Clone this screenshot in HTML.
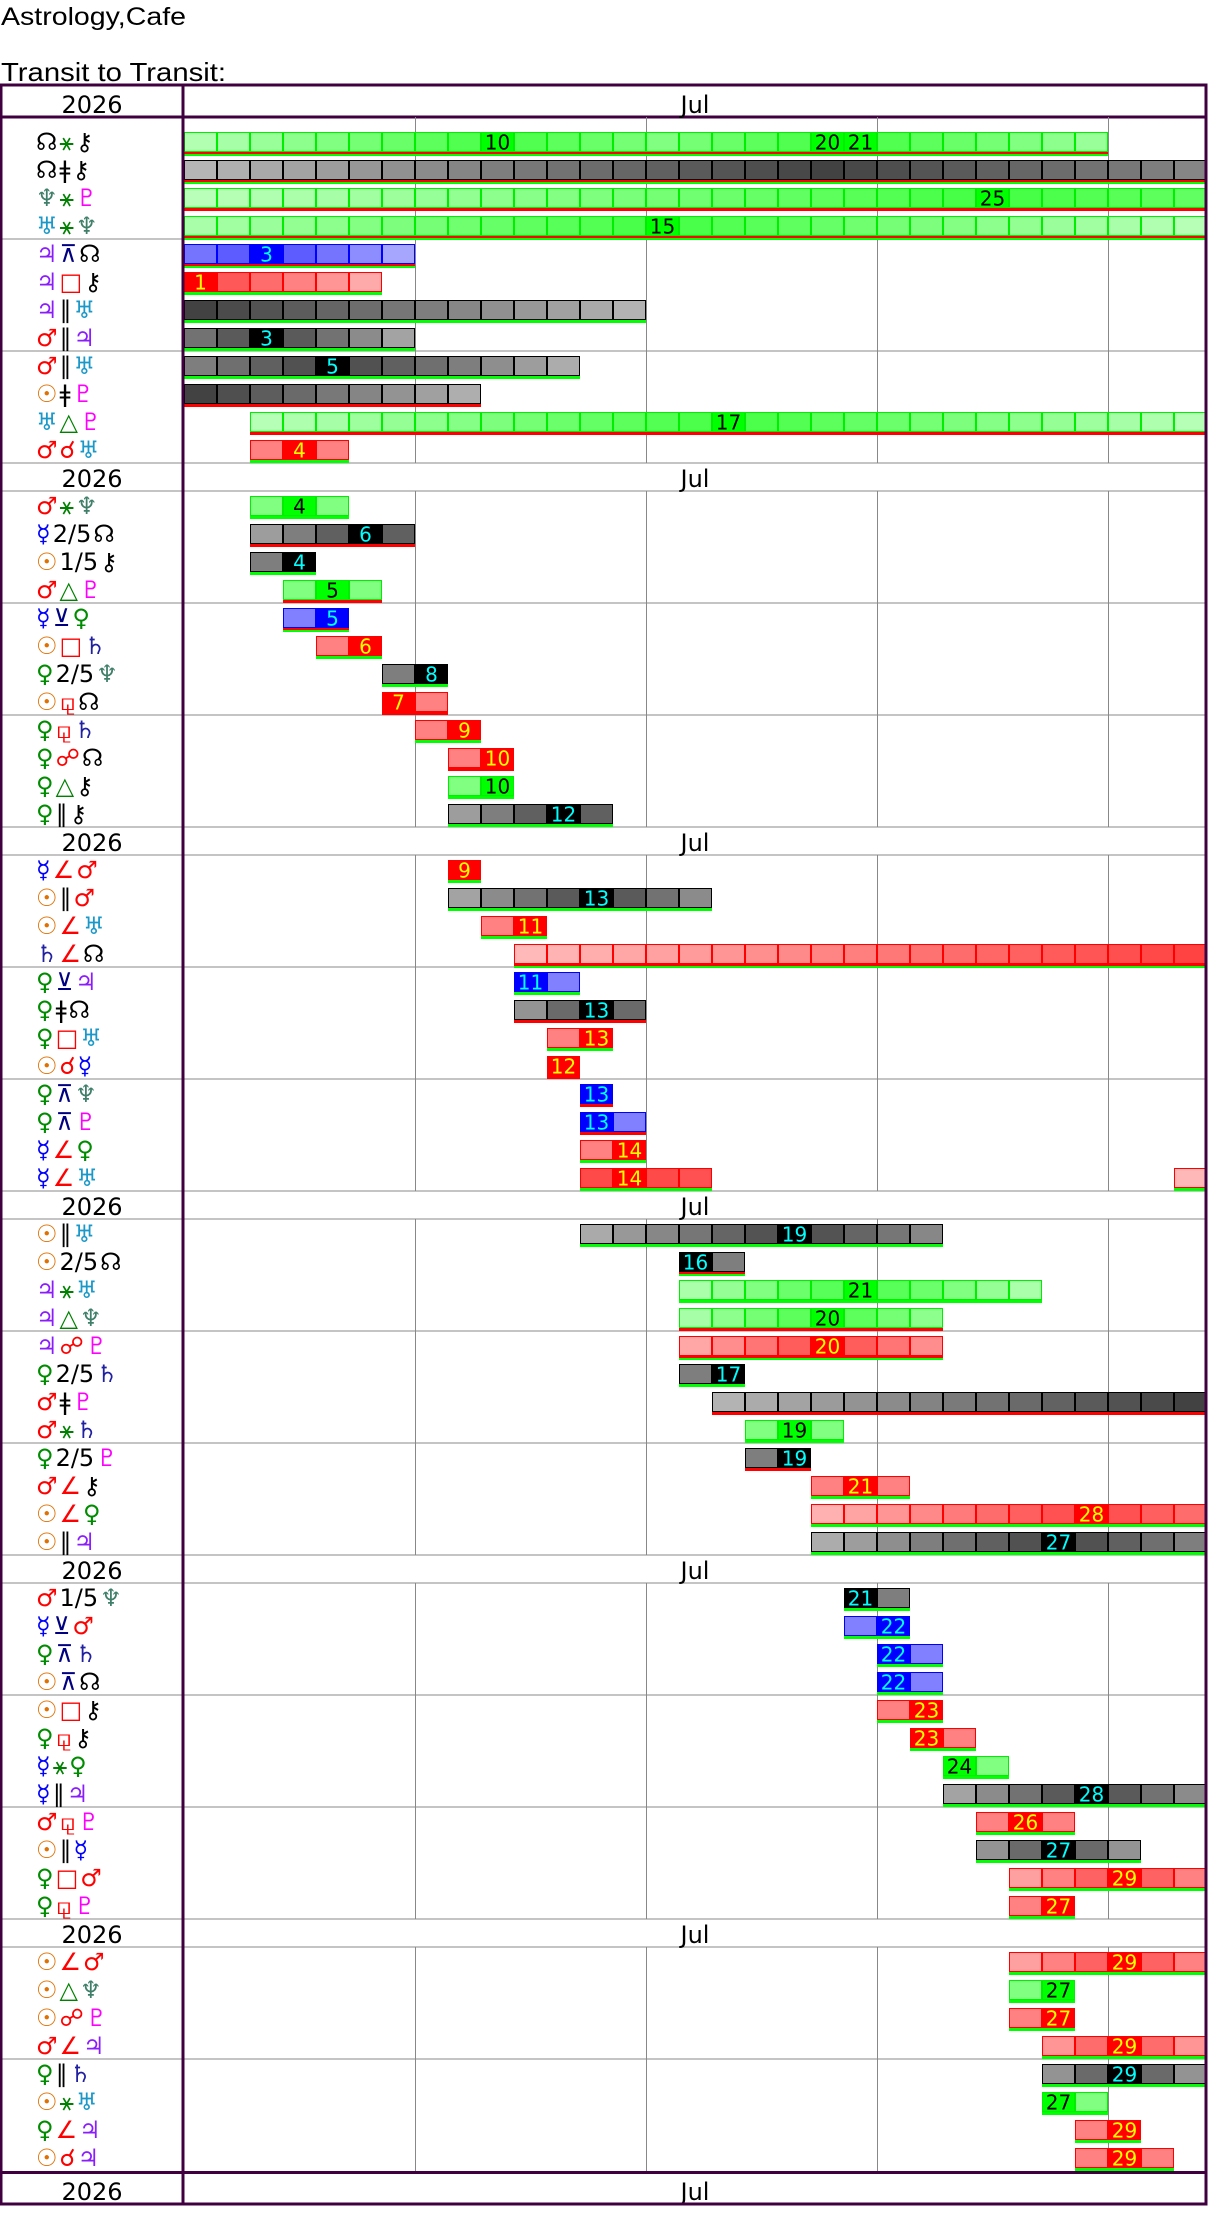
<!DOCTYPE html>
<html><head><meta charset="utf-8">
<style>
html,body{margin:0;padding:0;background:#fff;}
svg{display:block;font-family:"DejaVu Sans","Liberation Sans",sans-serif;}
</style></head>
<body>
<svg id="chart" width="1222" height="2236" viewBox="0 0 1222 2236" xmlns="http://www.w3.org/2000/svg">
<text x="1" y="25" font-size="25" fill="#000" font-family="Liberation Sans, DejaVu Sans, sans-serif" textLength="185" lengthAdjust="spacingAndGlyphs">Astrology,Cafe</text>
<text x="1" y="81" font-size="26" fill="#000" font-family="Liberation Sans, DejaVu Sans, sans-serif" textLength="225" lengthAdjust="spacingAndGlyphs">Transit to Transit:</text>
</svg>
<script>
// ---- data ----
const rowP1 = ["☊","☊","♆","♅","♃","♃","♃","♂","♂","☉","♅","♂",
"♂","☿","☉","♂","☿","☉","♀","☉","♀","♀","♀","♀",
"☿","☉","☉","♄","♀","♀","♀","☉","♀","♀","☿","☿",
"☉","☉","♃","♃","♃","♀","♂","♂","♀","♂","☉","☉",
"♂","☿","♀","☉","☉","♀","☿","☿","♂","☉","♀","♀",
"☉","☉","☉","♂","♀","☉","♀","☉"];
const rowAsp = ["⚹","ǂ","⚹","⚹","⊼","□","∥","∥","∥","ǂ","△","☌",
"⚹","2/5","1/5","△","⊻","□","2/5","⚼","⚼","☍","△","∥",
"∠","∥","∠","∠","⊻","ǂ","□","☌","⊼","⊼","∠","∠",
"∥","2/5","⚹","△","☍","2/5","ǂ","⚹","2/5","∠","∠","∥",
"1/5","⊻","⊼","⊼","□","⚼","⚹","∥","⚼","∥","□","⚼",
"∠","△","☍","∠","∥","⚹","∠","☌"];
const rowP2 = ["⚷","⚷","♇","♆","☊","⚷","♅","♃","♅","♇","♇","♅",
"♆","☊","⚷","♇","♀","♄","♆","☊","♄","☊","⚷","⚷",
"♂","♂","♅","☊","♃","☊","♅","☿","♆","♇","♀","♅",
"♅","☊","♅","♆","♇","♄","♇","♄","♇","⚷","♀","♃",
"♆","♂","♄","☊","⚷","⚷","♀","♃","♇","☿","♂","♇",
"♂","♆","♇","♃","♄","♅","♃","♃"];
const rowType = ["g","k","g","g","b","r","k","k","k","k","g","r",
"g","k","k","g","b","r","k","r","r","r","g","k",
"r","k","r","r","b","k","r","r","b","b","r","r",
"k","k","g","g","r","k","k","g","k","r","r","k",
"k","b","b","b","r","r","g","k","r","k","r","r",
"r","g","r","r","k","g","r","r"];
const rowStart = [1,1,1,1,1,1,1,1,1,1,3,3,
3,3,3,4,4,5,7,7,8,9,9,9,
9,9,10,11,11,11,12,12,13,13,13,13,
13,16,16,16,16,16,17,18,18,20,20,20,
21,21,22,22,22,23,24,24,25,25,26,26,
26,26,26,27,27,27,28,28];
const rowEnd = [28,31,31,31,7,6,14,7,12,9,31,5,
5,7,4,6,5,6,8,8,9,10,10,13,
9,16,11,31,12,14,13,12,13,14,14,16,
23,17,26,23,23,17,31,20,19,22,31,31,
22,22,23,23,23,24,25,31,27,29,31,27,
31,27,27,31,31,28,29,30];
// peak days carrying a printed label
const rowLabels = [[10,20,21],[],[25],[15],[3],[1],[],[3],[5],[],[17],[4],
[4],[6],[4],[5],[5],[6],[8],[7],[9],[10],[10],[12],
[9],[13],[11],[],[11],[13],[13],[12],[13],[13],[14],[14],
[19],[16],[21],[20],[20],[17],[],[19],[19],[21],[28],[27],
[21],[22],[22],[22],[23],[23],[24],[28],[26],[27],[29],[27],
[29],[27],[27],[29],[29],[27],[29],[29]];
// darkest day when there is no label
const rowDark = [0,20,0,0,0,0,1,0,0,1,0,0,
0,0,0,0,0,0,0,0,0,0,0,0,
0,0,0,31,0,0,0,0,0,0,0,0,
0,0,0,0,0,0,31,0,0,0,0,0,
0,0,0,0,0,0,0,0,0,0,0,0,
0,0,0,0,0,0,0,0];
const rowUnder = ["rg","rg","r","rg","rg","g","g","g","g","r","r","g",
"g","r","g","r","rg","g","g","r","g","r","g","g",
"g","g","g","rg","g","r","g","r","r","r","g","g",
"g","rg","g","r","rg","g","r","g","r","g","g","g",
"g","g","g","g","g","g","g","g","g","g","g","g",
"g","g","g","g","g","g","g","g"];
const extraCells = [[35,31]];
const blockSizes = [12,12,12,12,12,8];
const yearLabel = "2026";
const monthLabel = "Jul";
const daysInMonth = 31;

const pColor = {"☊":"#000","⚷":"#000","♆":"#3f7f6a","♇":"#ff00ff","♅":"#1a98c8","♃":"#8a1cff","♂":"#ff0000","☉":"#e07000","☿":"#0000ff","♀":"#008c00","♄":"#2020a0"};
const aColor = {"⚹":"#008000","ǂ":"#000","⊼":"#000080","⊻":"#000080","□":"#ff0000","∥":"#000","☌":"#ff0000","△":"#008000","∠":"#ff0000","☍":"#ff0000","⚼":"#ff0000","2/5":"#000","1/5":"#000"};

// ---- layout ----
const NS = "http://www.w3.org/2000/svg";
const svg = document.getElementById('chart');
const X0 = 184, CW = 33, XR = 1206;
const ROWH = 28;
function xDay(d){ return X0 + (d-1)*CW; }
function mk(tag, attrs, parent){
  const e = document.createElementNS(NS, tag);
  for (const k in attrs) e.setAttribute(k, attrs[k]);
  (parent||svg).appendChild(e); return e;
}
function lerp(a,b,t){ return Math.round(a+(b-a)*t); }
function shade(type, t){
  let c0, c1;
  if (type==="g"){ c0=[224,255,224]; c1=[0,255,0]; }
  else if (type==="r"){ c0=[255,224,224]; c1=[255,0,0]; }
  else if (type==="b"){ c0=[224,224,255]; c1=[0,0,255]; }
  else { c0=[220,220,220]; c1=[0,0,0]; }
  return "rgb("+lerp(c0[0],c1[0],t)+","+lerp(c0[1],c1[1],t)+","+lerp(c0[2],c1[2],t)+")";
}
const border = {g:"#00ee00", r:"#ff0000", b:"#0000ff", k:"#000"};
const labelCol = {g:"#000", r:"#ffff00", b:"#00ffff", k:"#00ffff"};

function header(y, h){
  const g = mk('g', {});
  
  
  const t = mk('text', {x:92, y:y+h-4, 'font-size':24, 'text-anchor':'middle', fill:'#000'}, g);
  t.textContent = yearLabel;
  
  
  const m = mk('text', {x:(X0+XR)/2, y:y+h-4, 'font-size':24, 'text-anchor':'middle', fill:'#000'}, g);
  m.textContent = monthLabel;
  
  
}

function drawRow(i, top){
  const g = mk('g', {});
  
  
  const tx = mk('text', {x:36, y:top+23, 'font-size':24}, g);
  
  
  const s1 = mk('tspan', {fill:pColor[rowP1[i]]}, tx); s1.textContent = rowP1[i];
  const s2 = mk('tspan', {fill:aColor[rowAsp[i]]||"#000", dx:2}, tx); s2.textContent = rowAsp[i];
  const s3 = mk('tspan', {fill:pColor[rowP2[i]], dx:2}, tx); s3.textContent = rowP2[i];
  const type = rowType[i];
  const peaks = rowLabels[i].length ? rowLabels[i] : [rowDark[i]];
  const days = [];
  for (let d=rowStart[i]; d<=rowEnd[i]; d++) days.push(d);
  extraCells.forEach(e=>{ if(e[0]===i) days.push(e[1]); });
  let maxDist = 1;
  days.forEach(d=>{ const dd=Math.min(...peaks.map(p=>Math.abs(d-p))); if(dd>maxDist) maxDist=dd; });
  const by = top+5.5, bh = 19;
  days.forEach(d=>{
    const dd = Math.min(...peaks.map(p=>Math.abs(d-p)));
    const isLab = rowLabels[i].indexOf(d) >= 0;
    const t = isLab ? 1 : 0.15 + 0.55*(1 - dd/(maxDist+1));
    const r = mk('rect', {x:xDay(d)+0.5, y:by, width:CW-1, height:bh, fill:shade(type,t), stroke:border[type], 'stroke-width':1}, g);
    
    
    if (isLab){
      const lt = mk('text', {x:xDay(d)+CW/2, y:by+bh-2, 'font-size':20, 'text-anchor':'middle', fill:labelCol[type]}, g);
      lt.textContent = String(d);
      
      
    }
  });
  const u = rowUnder[i];
  const segs = [[rowStart[i], rowEnd[i]]];
  extraCells.forEach(e=>{ if(e[0]===i) segs.push([e[1],e[1]]); });
  segs.forEach(s=>{
    const ux = xDay(s[0]), uw = (s[1]-s[0]+1)*CW;
    if (u==="rg"){
      const a = mk('rect', {x:ux, y:by+bh+0.5, width:uw, height:2, fill:'#ff0000'}, g);
      
      
      const b = mk('rect', {x:ux, y:by+bh+2.5, width:uw, height:2, fill:'#00ff00'}, g);
      
      
    } else {
      const a = mk('rect', {x:ux, y:by+bh+0.5, width:uw, height:3, fill:u==="r"?'#ff0000':'#00ff00'}, g);
      
      
    }
  });
}

let y = 84;
let ri = 0;
const gridG = mk('g', {});


blockSizes.forEach((n, bi)=>{
  const hh = bi===0 ? 33 : 28;
  header(y, hh);
  const lineCol = bi===0 ? '#400040' : '#888';
  if (bi>0){
    const l0 = mk('line', {x1:0, x2:XR, y1:y, y2:y, stroke:'#888', 'stroke-width':1}, gridG);
    
    
  }
  const l1 = mk('line', {x1:0, x2:XR, y1:y+hh, y2:y+hh, stroke:lineCol, 'stroke-width':bi===0?3:1}, gridG);
  
  
  const rowsTop = y + hh + (bi===0 ? 10 : 0);
  const rowsBot = rowsTop + n*ROWH;
  for (let w=8; w<=daysInMonth; w+=7){
    const vl = mk('line', {x1:xDay(w)+0.5, x2:xDay(w)+0.5, y1:y+hh, y2:rowsBot, stroke:'#888', 'stroke-width':1}, gridG);
    
    
  }
  for (let k=4; k<n; k+=4){
    const hl = mk('line', {x1:0, x2:XR, y1:rowsTop+k*ROWH, y2:rowsTop+k*ROWH, stroke:'#888', 'stroke-width':1}, gridG);
    
    
  }
  for (let k=0; k<n; k++){ drawRow(ri, rowsTop+k*ROWH); ri++; }
  y = rowsBot;
});
const lf = mk('line', {x1:0, x2:XR, y1:y+1.5, y2:y+1.5, stroke:'#400040', 'stroke-width':3});


header(y, 33);
const bottom = y + 33;
const fr = mk('rect', {x:1, y:85, width:XR-1, height:bottom-85, fill:'none', stroke:'#400040', 'stroke-width':3});


const lc = mk('line', {x1:183, x2:183, y1:84, y2:bottom, stroke:'#400040', 'stroke-width':3});


</script>
</body></html>
